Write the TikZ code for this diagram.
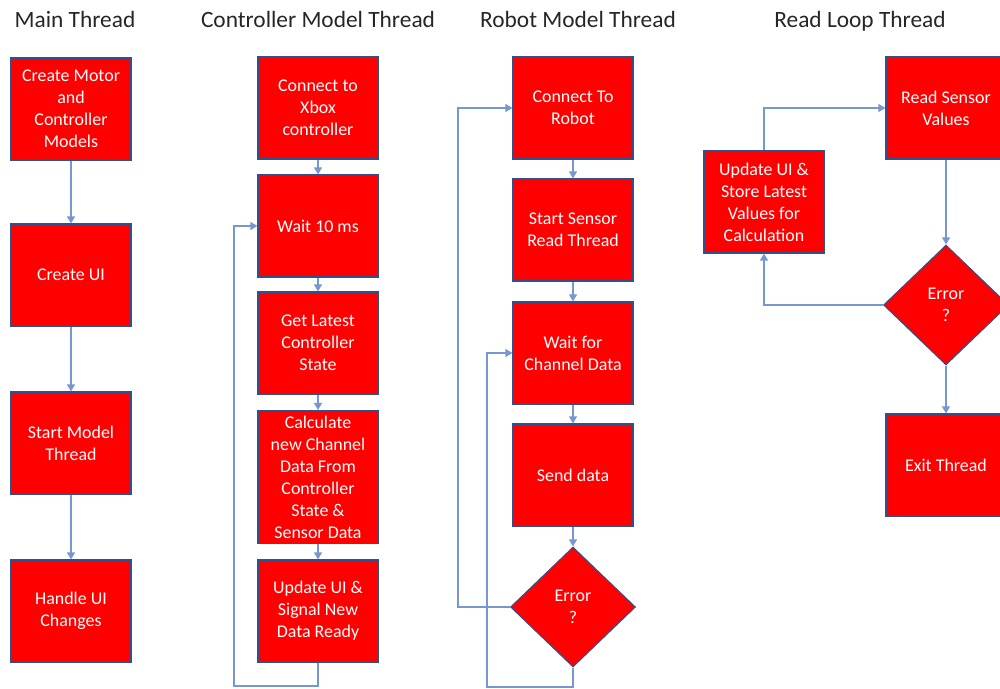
\documentclass[tikz,border=0pt]{standalone}
\usepackage{fontspec}
\setmainfont{Carlito}
\usetikzlibrary{shapes.geometric,arrows.meta}

\definecolor{boxred}{RGB}{255,0,0}
\definecolor{boxedge}{RGB}{47,82,143}
\definecolor{flowblue}{RGB}{120,150,210}
\definecolor{titlegray}{RGB}{38,38,38}

\tikzset{
  box/.style={draw=boxedge, line width=0.6pt, fill=boxred, text=white,
    minimum width=2.4cm, minimum height=2.04cm, inner sep=1pt, align=center,
    font=\fontsize{10.2}{12.5}\selectfont},
  decision/.style={diamond, aspect=1.04, draw=boxedge, line width=0.6pt, fill=boxred,
    text=white, minimum width=2.5cm, minimum height=2.4cm, inner sep=0pt, align=center,
    font=\fontsize{10.2}{12.5}\selectfont},
  heading/.style={text=titlegray, font=\fontsize{13.3}{16}\selectfont,
    text height=9.5pt, text depth=3pt},
  link/.style={draw=flowblue, line width=0.7pt, -{Triangle[length=4pt,width=4.5pt]}},
}

\begin{document}
\begin{tikzpicture}[x=0.02cm, y=-0.02cm]
    \useasboundingbox (0,0) rectangle (1000,689);

    % Column titles
    \node[heading] (tmain) at (75,22) {Main Thread};
    \node[heading] (tctrl) at (318,22) {Controller Model Thread};
    \node[heading] (trobot) at (578,22) {Robot Model Thread};
    \node[heading] (tread) at (860,22) {Read Loop Thread};

    % Main thread
    \node[box] (m1) at (71,109) {Create Motor\\and\\Controller\\Models};
    \node[box] (m2) at (71,275) {Create UI};
    \node[box] (m3) at (71,443) {Start Model\\Thread};
    \node[box] (m4) at (71,611) {Handle UI\\Changes};
    \draw[link] (m1) -- (m2);
    \draw[link] (m2) -- (m3);
    \draw[link] (m3) -- (m4);

    % Controller model thread
    \node[box] (c1) at (318,108) {Connect to\\Xbox\\controller};
    \node[box] (c2) at (318,226) {Wait 10 ms};
    \node[box] (c3) at (318,343) {Get Latest\\Controller\\State};
    \node[box, minimum height=2.66cm] (c4) at (318,477) {Calculate\\new Channel\\Data From\\Controller\\State \&\\Sensor Data};
    \node[box] (c5) at (318,611) {Update UI \&\\Signal New\\Data Ready};
    \draw[link] (c1) -- (c2);
    \draw[link] (c2) -- (c3);
    \draw[link] (c3) -- (c4);
    \draw[link] (c4) -- (c5);
    \coordinate (cloop) at (234,686);
    \draw[link] (c5.south) |- (cloop) |- (c2.west);

    % Robot model thread
    \node[box] (r1) at (573,108) {Connect To\\Robot};
    \node[box] (r2) at (573,230) {Start Sensor\\Read Thread};
    \node[box] (r3) at (573,353) {Wait for\\Channel Data};
    \node[box] (r4) at (573,475) {Send data};
    \node[decision] (e1) at (573,607) {Error\\?};
    \draw[link] (r1) -- (r2);
    \draw[link] (r2) -- (r3);
    \draw[link] (r3) -- (r4);
    \draw[link] (r4) -- (e1);
    \coordinate (rloopA) at (458,607);
    \coordinate (rloopB) at (487,687);
    \draw[link] (e1.west) -- (rloopA) |- (r1.west);
    \draw[link] (e1.south) |- (rloopB) |- (r3.west);

    % Read loop thread
    \node[box] (s1) at (946,108) {Read Sensor\\Values};
    \node[decision] (e2) at (946,305) {Error\\?};
    \node[box] (s2) at (946,465) {Exit Thread};
    \node[box] (u1) at (764,202) {Update UI \&\\Store Latest\\Values for\\Calculation};
    \draw[link] (s1) -- (e2);
    \draw[link] (e2) -- (s2);
    \draw[link] (e2.west) -| (u1.south);
    \draw[link] (u1.north) |- (s1.west);
\end{tikzpicture}
\end{document}
